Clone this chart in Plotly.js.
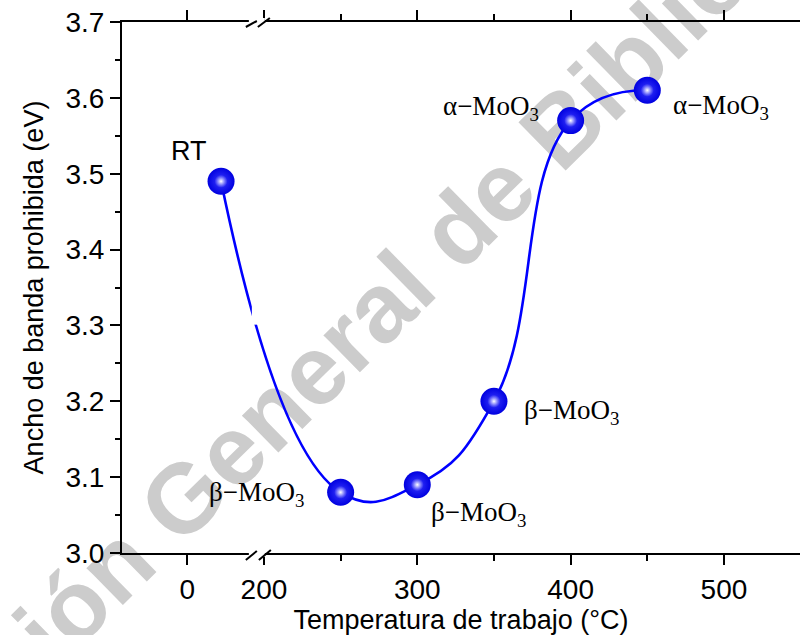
<!DOCTYPE html>
<html>
<head>
<meta charset="utf-8">
<script src="https://cdn.plot.ly/plotly-3.0.1.min.js"></script>
<style>
  html, body { margin: 0; padding: 0; background: #ffffff; }
  #chart { width: 800px; height: 635px; }
</style>
</head>
<body>
<div id="chart"></div>
<script>
// ---- data ----
const temperatures = [22, 250, 300, 350, 400, 450];          // °C (RT ≈ 22)
const bandGaps     = [3.49, 3.08, 3.09, 3.20, 3.57, 3.61];    // eV
const phaseLabels  = ['RT', 'β−MoO<sub>3</sub>', 'β−MoO<sub>3</sub>', 'β−MoO<sub>3</sub>', 'α−MoO<sub>3</sub>', 'α−MoO<sub>3</sub>'];
const xTickValues  = [0, 200, 300, 400, 500];
const xTickLabels  = ['0', '200', '300', '400', '500'];
const xMinorValues = [250, 350, 450];
const yTickValues  = [3.0, 3.1, 3.2, 3.3, 3.4, 3.5, 3.6, 3.7];
const watermarkText = 'Dirección General de Bibliotecas';

// ---- broken x axis: low segment shifted onto a shared coordinate ----
const LOW_SHIFT = 150;
const BREAK_AT = 196;
const toAxis = t => (t < 100 ? t + LOW_SHIFT : t);

const xs = temperatures.map(toAxis);

// label placement (pixel shifts from each point)
const serif = 'Liberation Serif, Times New Roman, serif';
const labelShifts = [
  { dx: -32, dy: 30, font: 'Liberation Sans, Arial, sans-serif' },
  { dx: -84, dy: -2, font: serif },
  { dx: 61, dy: -29, font: serif },
  { dx: 78, dy: -11, font: serif },
  { dx: -80, dy: 13, font: serif },
  { dx: 74, dy: -17, font: serif }
];

const traces = [
  {
    x: xs, y: bandGaps, type: 'scatter', mode: 'lines+markers',
    line: { shape: 'spline', smoothing: 1.3, color: '#0000ff', width: 2.6 },
    marker: { size: 27, color: '#0000e0', line: { width: 0 },
              gradient: { type: 'radial', color: '#3a3aff' } },
    hoverinfo: 'skip', showlegend: false
  },
  {
    x: xs, y: bandGaps, type: 'scatter', mode: 'markers',
    marker: { size: 13, color: 'rgba(200,200,255,0)', line: { width: 0 },
              gradient: { type: 'radial', color: '#ffffff' } },
    hoverinfo: 'skip', showlegend: false
  }
];

const annotations = phaseLabels.map((txt, i) => ({
  x: xs[i], y: bandGaps[i], xref: 'x', yref: 'y',
  text: txt, showarrow: false,
  xshift: labelShifts[i].dx, yshift: labelShifts[i].dy,
  font: { family: labelShifts[i].font, size: 27, color: '#000000' }
}));

const axisFont = { family: 'Liberation Sans, Arial, sans-serif', size: 28, color: '#000000' };
const titleFont = { family: 'Liberation Sans, Arial, sans-serif', size: 27, color: '#000000' };

function slash(yAnchor, x0, y0, x1, y1) {
  return { type: 'line', xref: 'x', yref: 'paper', xsizemode: 'pixel', ysizemode: 'pixel',
           xanchor: BREAK_AT, yanchor: yAnchor, x0: x0, y0: y0, x1: x1, y1: y1,
           line: { color: '#000000', width: 2 }, layer: 'above' };
}
function gapRect(yAnchor, x0, x1, y0, y1) {
  return { type: 'rect', xref: 'x', yref: 'paper', xsizemode: 'pixel', ysizemode: 'pixel',
           xanchor: BREAK_AT, yanchor: yAnchor, x0: x0, x1: x1, y0: y0, y1: y1,
           fillcolor: '#ffffff', line: { width: 0 }, layer: 'above' };
}

const shapes = [
  // watermark (behind the data)
  { type: 'line', xref: 'paper', yref: 'paper',
    x0: 0.0324, y0: 0.0546, x1: 0.6637, y1: 0.8456,
    line: { color: 'rgba(0,0,0,0)', width: 1 }, layer: 'below',
    label: { text: watermarkText, textangle: 'auto', textposition: 'middle',
             xanchor: 'center', yanchor: 'middle', padding: 0,
             font: { family: 'Liberation Sans, Arial, sans-serif', size: 98, weight: 'bold', color: '#cccccc' } } },
  // break gaps
  gapRect(0, -9, 7, -4, 4),
  gapRect(1, -9, 7, -4, 4),
  { type: 'rect', xref: 'x', yref: 'paper', xsizemode: 'pixel',
    xanchor: BREAK_AT, x0: -6, x1: 5, y0: 0.43, y1: 0.487,
    fillcolor: '#ffffff', line: { width: 0 }, layer: 'above' },
  slash(0, -12, -7, -1, 2),
  slash(0, 1, -7, 13, 3),
  slash(1, -12, -5, -1, 1),
  slash(1, 0, -5, 12, 4)
];

const layout = {
  width: 800, height: 635,
  margin: { l: 122, r: 0, t: 22, b: 82 },
  paper_bgcolor: '#ffffff', plot_bgcolor: 'rgba(0,0,0,0)',
  showlegend: false,
  xaxis: {
    range: [107.4, 549.6],
    tickmode: 'array', tickvals: xTickValues.map(toAxis), ticktext: xTickLabels,
    ticks: 'outside', ticklen: 10, tickwidth: 2, tickcolor: '#000000',
    minor: { tickmode: 'array', tickvals: xMinorValues, ticks: 'outside', ticklen: 6, tickwidth: 2, tickcolor: '#000000' },
    showline: true, linecolor: '#000000', linewidth: 2, mirror: 'ticks',
    showgrid: false, zeroline: false,
    tickfont: axisFont,
    title: { text: 'Temperatura de trabajo (°C)', font: titleFont, standoff: 6 }
  },
  yaxis: {
    range: [3.0, 3.7],
    tickmode: 'array', tickvals: yTickValues, ticktext: yTickValues.map(v => v.toFixed(1)),
    ticks: 'outside', ticklen: 10, tickwidth: 2, tickcolor: '#000000',
    minor: { dtick: 0.05, ticks: 'outside', ticklen: 5, tickwidth: 2, tickcolor: '#000000' },
    showline: true, linecolor: '#000000', linewidth: 2, mirror: false,
    showgrid: false, zeroline: false,
    tickfont: axisFont,
    title: { text: 'Ancho de banda prohibida (eV)', font: titleFont, standoff: 14 }
  },
  annotations: annotations,
  shapes: shapes
};

Plotly.newPlot('chart', traces, layout, { staticPlot: true, displayModeBar: false });
</script>
</body>
</html>
